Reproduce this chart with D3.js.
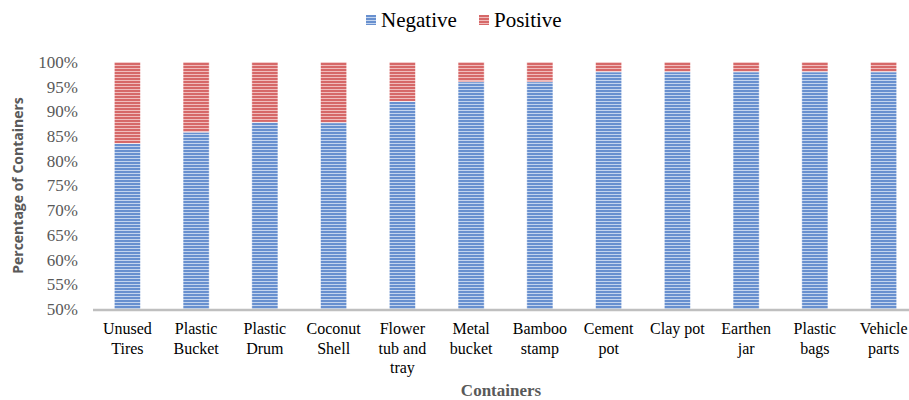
<!DOCTYPE html>
<html>
<head>
<meta charset="utf-8">
<script src="https://cdn.jsdelivr.net/npm/d3@7"></script>
<style>
  body { margin: 0; background: #fff; }
  svg { display: block; }
</style>
</head>
<body>
<div id="chart"></div>
<script>
const categories = ["Unused Tires", "Plastic Bucket", "Plastic Drum", "Coconut Shell",
    "Flower tub and tray", "Metal bucket", "Bamboo stamp", "Cement pot",
    "Clay pot", "Earthen jar", "Plastic bags", "Vehicle parts"];
const negative = [83.5, 85.8, 87.8, 87.7, 92.0, 96.0, 96.0, 98.0, 98.0, 98.0, 98.0, 98.0];
const positive = negative.map(v => 100 - v);
const seriesNames = ["Negative", "Positive"];
const yTicks = [50, 55, 60, 65, 70, 75, 80, 85, 90, 95, 100];

const W = 909, H = 400;
const margin = {top: 62, right: -9, bottom: 91, left: 93};
const width = W - margin.left - margin.right;
const height = H - margin.top - margin.bottom;

const svg = d3.select("#chart").append("svg")
    .attr("width", W).attr("height", H);

// striped fills, like the reference
const defs = svg.append("defs");
const fills = {Negative: ["#c3d4ee", "#6890cf"], Positive: ["#f0bcbc", "#d66868"]};
seriesNames.forEach(name => {
    const p = defs.append("pattern")
        .attr("id", "pat-" + name)
        .attr("patternUnits", "userSpaceOnUse")
        .attr("width", 6).attr("height", 3);
    p.append("rect").attr("width", 6).attr("height", 3).attr("fill", fills[name][0]);
    p.append("rect").attr("y", 1).attr("width", 6).attr("height", 2).attr("fill", fills[name][1]);
});

const g = svg.append("g").attr("transform", `translate(${margin.left},${margin.top})`);

const x = d3.scaleBand().domain(categories).range([0, width]).paddingInner(0.62).paddingOuter(0.31);
const y = d3.scaleLinear().domain([50, 100]).range([height, 0]);

const rows = categories.map((c, i) => ({cat: c, Negative: negative[i], Positive: positive[i]}));
const stacked = d3.stack().keys(seriesNames)(rows);

// bars start at 0 but are clipped at the 50% floor
defs.append("clipPath").attr("id", "plotclip")
    .append("rect").attr("x", -10).attr("y", -2).attr("width", width + 20).attr("height", height + 2);

g.append("g").attr("clip-path", "url(#plotclip)")
  .selectAll("g.layer")
  .data(stacked)
  .join("g")
    .attr("class", "layer")
    .attr("fill", d => `url(#pat-${d.key})`)
  .selectAll("rect")
  .data(d => d)
  .join("rect")
    .attr("x", d => x(d.data.cat))
    .attr("width", x.bandwidth())
    .attr("y", d => y(d[1]))
    .attr("height", d => y(Math.max(d[0], 40)) - y(d[1]))
    .attr("stroke", "#fff")
    .attr("stroke-opacity", 0.6)
    .attr("stroke-width", 0.8);

// y axis (labels only)
const yAxis = g.append("g")
    .call(d3.axisLeft(y).tickValues(yTicks).tickFormat(d => d + "%").tickSize(0).tickPadding(15));
yAxis.select(".domain").remove();
yAxis.selectAll("text")
    .attr("font-family", "'Liberation Serif', 'Times New Roman', serif")
    .attr("font-size", 17)
    .attr("fill", "#595959");

// baseline
g.append("line")
    .attr("x1", 0).attr("x2", width + 9)
    .attr("y1", height + 1).attr("y2", height + 1)
    .attr("stroke", "#bfbfbf").attr("stroke-width", 2.5);

// x axis labels (wrapped)
const xAxis = g.append("g").attr("transform", `translate(0,${height})`)
    .call(d3.axisBottom(x).tickSize(0).tickPadding(14));
xAxis.select(".domain").remove();
xAxis.selectAll("text")
    .attr("font-family", "'Liberation Serif', 'Times New Roman', serif")
    .attr("font-size", 16)
    .attr("fill", "#000")
    .each(function() {
        const t = d3.select(this);
        const words = t.text().split(" ");
        const xPos = t.attr("x") || 0, yPos = +t.attr("y");
        t.text(null);
        let line = [], lineNo = 0;
        let tspan = t.append("tspan").attr("x", xPos).attr("y", yPos).attr("dy", "0.71em");
        words.forEach(w => {
            line.push(w);
            tspan.text(line.join(" "));
            if (tspan.node().getComputedTextLength() > 60 && line.length > 1) {
                line.pop();
                tspan.text(line.join(" "));
                line = [w];
                lineNo++;
                tspan = t.append("tspan").attr("x", xPos).attr("y", yPos)
                    .attr("dy", (0.71 + lineNo * 1.2) + "em").text(w);
            }
        });
    });

// axis titles
svg.append("text")
    .attr("x", margin.left + (width - 9) / 2)
    .attr("y", 396)
    .attr("text-anchor", "middle")
    .attr("font-family", "'Liberation Serif', 'Times New Roman', serif")
    .attr("font-weight", "bold")
    .attr("font-size", 17)
    .attr("fill", "#595959")
    .text("Containers");

svg.append("text")
    .attr("transform", `translate(23,${margin.top + height / 2}) rotate(-90)`)
    .attr("text-anchor", "middle")
    .attr("font-family", "'Open Sans', 'Noto Sans', sans-serif")
    .attr("font-weight", "bold")
    .attr("font-size", 14)
    .attr("fill", "#595959")
    .text("Percentage of Containers");

// legend
const legend = svg.append("g").attr("transform", "translate(366,20)");
const legendX = [0, 113];
seriesNames.forEach((name, i) => {
    const item = legend.append("g").attr("transform", `translate(${legendX[i]},0)`);
    item.append("rect").attr("x", 0).attr("y", -5).attr("width", 10).attr("height", 10)
        .attr("fill", `url(#pat-${name})`);
    item.append("text").attr("x", 15).attr("y", 7)
        .attr("font-family", "'Liberation Serif', 'Times New Roman', serif")
        .attr("font-size", 21)
        .attr("fill", "#000")
        .text(name);
});
</script>
</body>
</html>
